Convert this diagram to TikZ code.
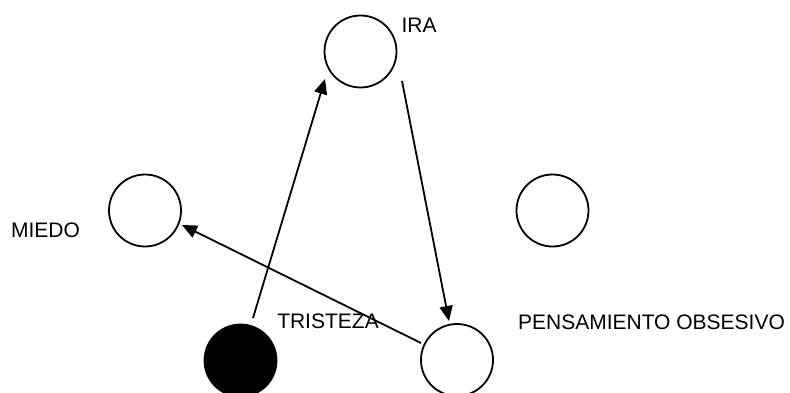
\documentclass[tikz,border=0pt]{standalone}
\usepackage{fontspec}
\setmainfont{Liberation Sans}
\usetikzlibrary{arrows.meta}
\begin{document}
\begin{tikzpicture}[x=1pt,y=-1pt,
  state/.style={circle,draw=black,line width=1.8pt,minimum size=72pt,inner sep=0pt},
  filledstate/.style={state,fill=black},
  lbl/.style={inner sep=0pt,font=\fontsize{21}{24}\selectfont},
  link/.style={line width=1.8pt,-{Triangle[length=15pt,width=13pt]}}]
  \useasboundingbox (0,0) rectangle (790,393);
  % emotion circles
  \node[state] (ira) at (360.5,51.5) {};
  \node[state] (miedo) at (145,210.5) {};
  \node[state] (extra) at (552.5,210.5) {};
  \node[filledstate] (tristeza) at (240.5,360.5) {};
  \node[state] (obsesivo) at (457,360) {};
  % labels
  \node[lbl] (tira) at (419,25) {IRA};
  \node[lbl] (tmiedo) at (45.5,230) {MIEDO};
  \node[lbl] (ttristeza) at (328,321) {TRISTEZA};
  \node[lbl] (tobsesivo) at (651.5,322.5) {PENSAMIENTO OBSESIVO};
  % connector end points
  \coordinate (a1) at (253,318);
  \coordinate (a2) at (325,79);
  \coordinate (b1) at (402,81);
  \coordinate (b2) at (449,321);
  \coordinate (c1) at (421,343);
  \coordinate (c2) at (182,225);
  \draw[link] (a1) -- (a2);
  \draw[link] (b1) -- (b2);
  \draw[link] (c1) -- (c2);
\end{tikzpicture}
\end{document}
